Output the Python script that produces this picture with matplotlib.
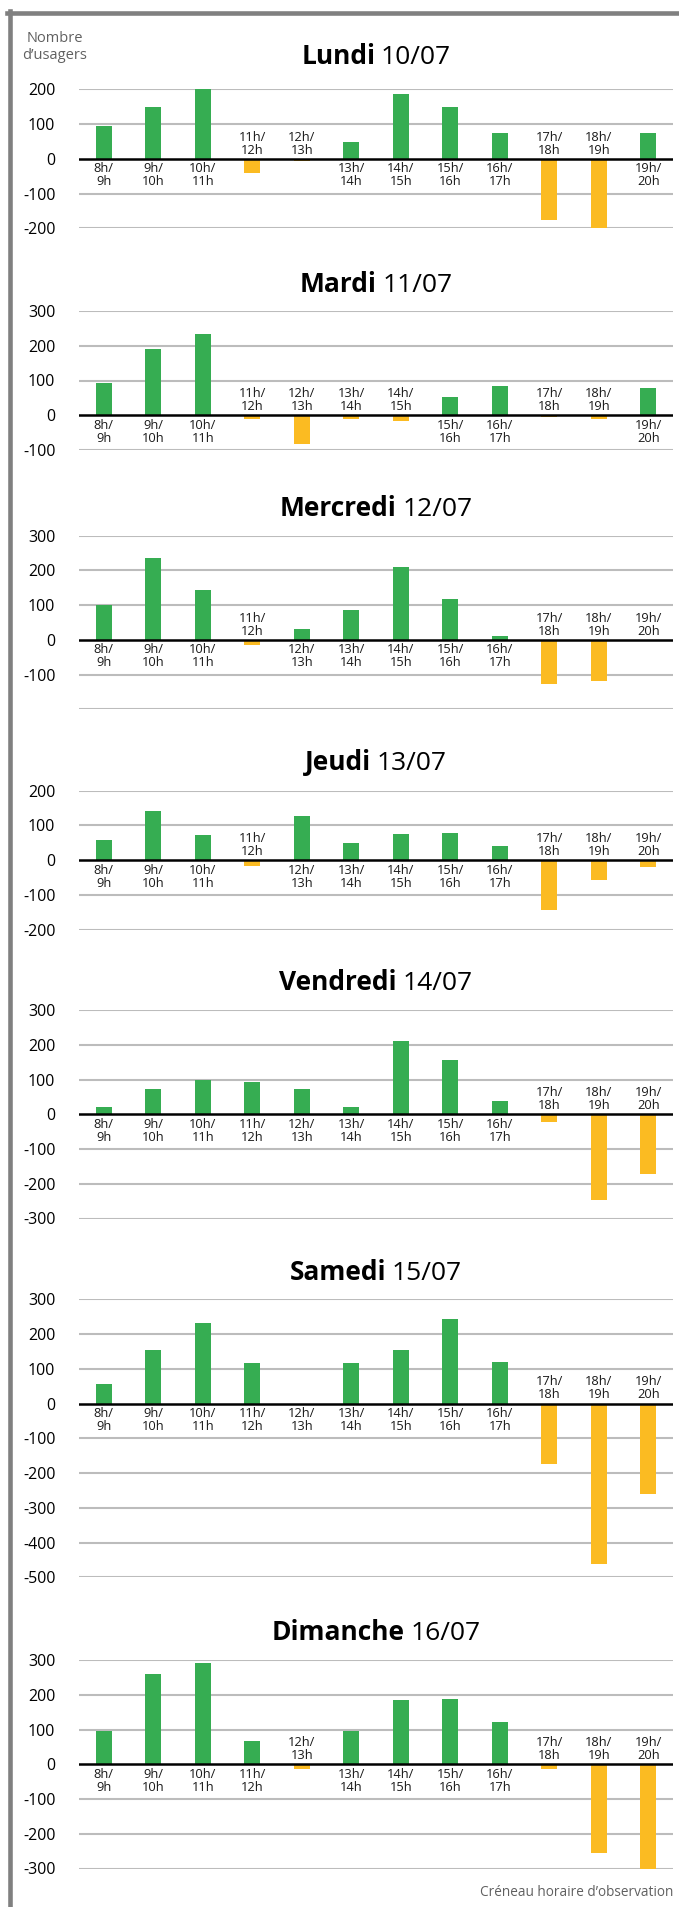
import matplotlib
matplotlib.use('Agg')
import matplotlib.pyplot as plt
from matplotlib.lines import Line2D
from matplotlib.offsetbox import TextArea, HPacker, AnchoredOffsetbox

plt.rcParams['font.family'] = ['Open Sans', 'DejaVu Sans']

# --- données ---
creneaux = ['8h/\n9h', '9h/\n10h', '10h/\n11h', '11h/\n12h', '12h/\n13h', '13h/\n14h',
            '14h/\n15h', '15h/\n16h', '16h/\n17h', '17h/\n18h', '18h/\n19h', '19h/\n20h']

jours = ['Lundi', 'Mardi', 'Mercredi', 'Jeudi', 'Vendredi', 'Samedi', 'Dimanche']
dates = ['10/07', '11/07', '12/07', '13/07', '14/07', '15/07', '16/07']

lundi = [95, 150, 200, -42, -5, 49, 187, 150, 75, -176, -206, 75]
mardi = [93, 190, 233, -10, -82, -10, -16, 53, 84, -4, -10, 78]
mercredi = [100, 237, 145, -14, 31, 85, 211, 117, 10, -126, -119, -1]
jeudi = [57, 141, 72, -17, 126, 49, 75, 78, 40, -144, -57, -20]
vendredi = [20, 72, 98, 92, 72, 20, 210, 155, 37, -23, -247, -172]
samedi = [55, 155, 233, 118, 0, 118, 155, 244, 121, -175, -462, -261]
dimanche = [95, 261, 290, 66, -14, 95, 184, 189, 123, -14, -255, -307]
valeurs = [lundi, mardi, mercredi, jeudi, vendredi, samedi, dimanche]

# bornes de l'axe et graduations affichées
ylims = [(-200, 200), (-100, 300), (-200, 300), (-200, 200), (-300, 300), (-500, 300), (-300, 300)]
yticks = [[-200, -100, 0, 100, 200],
          [-100, 0, 100, 200, 300],
          [-100, 0, 100, 200, 300],
          [-200, -100, 0, 100, 200],
          [-300, -200, -100, 0, 100, 200, 300],
          [-500, -400, -300, -200, -100, 0, 100, 200, 300],
          [-300, -200, -100, 0, 100, 200, 300]]

# --- mise en page (pixels) ---
W, H = 679, 1907
px_par_unite = 0.3475
haut_axes = [89.3, 311, 535.7, 790.7, 1010, 1299.3, 1660]
titre_y = [57, 285, 508, 763, 983, 1272, 1632]
x_gauche, x_droite = 79, 673

vert = '#36ad52'
orange = '#fbbb22'
gris_grille = '#bcbcbc'

fig = plt.figure(figsize=(W / 100, H / 100), dpi=100)

# cadre gris (haut + gauche)
fig.add_artist(Line2D([7 / W, 1], [1 - 12.5 / H] * 2, transform=fig.transFigure,
                      color='#808080', lw=3.3))
fig.add_artist(Line2D([9.5 / W] * 2, [0, 1 - 11 / H], transform=fig.transFigure,
                      color='#808080', lw=3.3))

for k, jour in enumerate(jours):
    ymin, ymax = ylims[k]
    h_px = (ymax - ymin) * px_par_unite
    ax = fig.add_axes([x_gauche / W, 1 - (haut_axes[k] + h_px) / H,
                       (x_droite - x_gauche) / W, h_px / H])
    vals = valeurs[k]
    couleurs = [vert if v >= 0 else orange for v in vals]
    ax.bar(range(len(creneaux)), vals, width=0.32, color=couleurs, zorder=2)

    for g in range(ymin, ymax + 1, 100):
        if g != 0:
            ax.axhline(g, color=gris_grille, lw=1.5, zorder=1)
    ax.axhline(0, color='black', lw=1.8, zorder=3)

    ax.set_xlim(-0.5, len(creneaux) - 0.5)
    ax.set_ylim(ymin, ymax)
    ax.set_xticks([])
    ax.set_yticks(yticks[k])
    ax.set_yticklabels([str(t) for t in yticks[k]])
    ax.tick_params(axis='y', length=0, pad=17, labelsize=11.5)
    for s in ax.spines.values():
        s.set_visible(False)
    ax.patch.set_alpha(0)

    # libellés des créneaux : au-dessus de l'axe si la barre est négative
    for i, lab in enumerate(creneaux):
        if vals[i] < 0:
            ax.annotate(lab, (i, 0), xytext=(0, 1.5), textcoords='offset points',
                        ha='center', va='bottom', fontsize=9.3, linespacing=1.0,
                        color='#1a1a1a')
        else:
            ax.annotate(lab, (i, 0), xytext=(0, -2.5), textcoords='offset points',
                        ha='center', va='top', fontsize=9.3, linespacing=1.0,
                        color='#1a1a1a')

    # titre : jour en gras + date
    boite = HPacker(children=[TextArea(jour, textprops=dict(fontsize=19, fontweight='bold')),
                              TextArea(dates[k], textprops=dict(fontsize=19))],
                    align='baseline', pad=0, sep=4)
    ancre = AnchoredOffsetbox(loc='center', child=boite, frameon=False, pad=0, borderpad=0,
                              bbox_to_anchor=((x_gauche + x_droite) / 2 / W, 1 - titre_y[k] / H),
                              bbox_transform=fig.transFigure)
    fig.add_artist(ancre)

fig.text(55 / W, 1 - 47 / H, "Nombre\nd\u2019usagers", ha='center', va='center',
         fontsize=10.5, color='#606060', linespacing=1.1)
fig.text(673 / W, 1 - 1892 / H, "Créneau horaire d\u2019observation", ha='right',
         va='center', fontsize=9.8, color='#606060')

fig.savefig('out.png', dpi=100)
